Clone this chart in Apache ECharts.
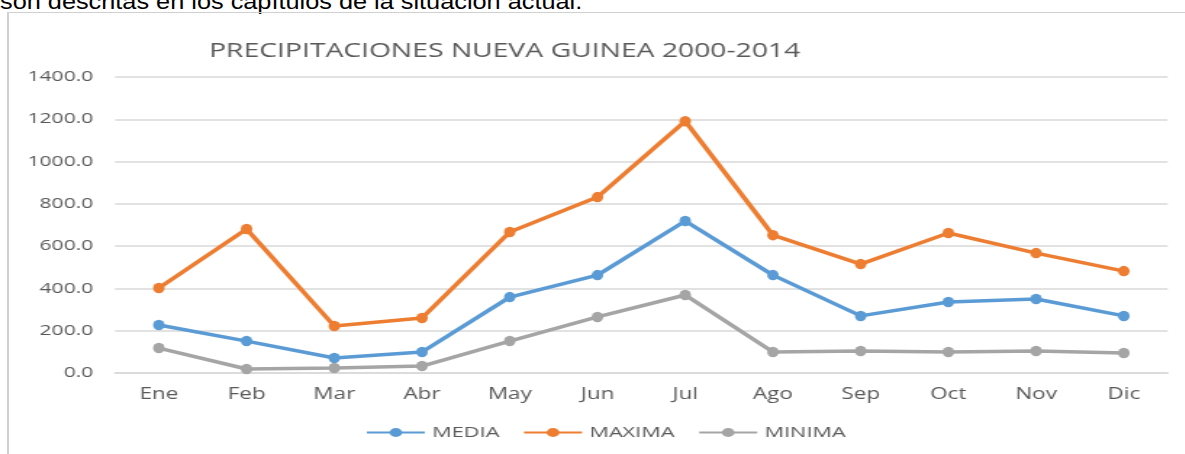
<!DOCTYPE html>
<html><head><meta charset="utf-8">
<script src="https://cdn.jsdelivr.net/npm/echarts@6/dist/echarts.min.js"></script>
<style>
html,body{margin:0;padding:0;background:#fff;overflow:hidden;}
#txt{position:absolute;left:0;top:-11px;font-family:"Liberation Sans",Arial,sans-serif;font-size:22px;color:#000;white-space:nowrap;transform:scaleX(1.15);transform-origin:left top;}
#frame{position:absolute;left:7px;top:12px;width:1190px;height:450px;border-left:2px solid #d0d0d0;border-top:1px solid #d0d0d0;}
#c{position:absolute;left:0;top:0;width:817px;height:454px;transform:scaleX(1.45);transform-origin:left top;}
</style></head>
<body>
<div id="txt">son descritas en los capítulos de la situación actual.</div>
<div id="frame"></div>
<div id="c"></div>
<script>
var categories = ['Ene','Feb','Mar','Abr','May','Jun','Jul','Ago','Sep','Oct','Nov','Dic'];
var media  = [227,151,71,99,359,463,719,463,270,336,350,270];
var maxima = [402,681,222,260,667,832,1191,652,515,662,567,482];
var minima = [118,19,24,33,151,265,369,99,104,99,104,95];
var yTicks = [0,200,400,600,800,1000,1200,1400];
var chart = echarts.init(document.getElementById('c'));
var font = '"Open Sans", "Noto Sans", sans-serif';
function s(name, data, color){
  return {name:name,type:'line',data:data,symbol:'circle',symbolSize:[8,10.5],
    lineStyle:{width:3.5,color:color},itemStyle:{color:color},animation:false};
}
chart.setOption({
  backgroundColor:'transparent',
  title:{text:'PRECIPITACIONES NUEVA GUINEA 2000-2014',left:343,top:36,textAlign:'center',
    textStyle:{fontFamily:font,fontSize:19.5,fontWeight:'normal',color:'#595959'}},
  grid:{left:79.3,right:11.7,top:77,bottom:81},
  legend:{bottom:9,left:247,itemWidth:40,itemHeight:11,itemGap:16,
    textStyle:{fontFamily:font,fontSize:15,color:'#595959'},
    data:['MEDIA','MAXIMA','MINIMA']},
  xAxis:{type:'category',data:categories,boundaryGap:true,
    axisLine:{show:true,lineStyle:{color:'#d9d9d9',width:1.5}},axisTick:{show:false},
    axisLabel:{fontFamily:font,fontSize:15.5,color:'#595959',margin:14}},
  yAxis:{type:'value',min:yTicks[0],max:yTicks[yTicks.length-1],interval:yTicks[1]-yTicks[0],
    axisLine:{show:false},axisTick:{show:false},
    splitLine:{lineStyle:{color:'#d9d9d9',width:1.5}},
    axisLabel:{fontFamily:font,fontSize:14.5,color:'#595959',margin:15,formatter:function(v){return v.toFixed(1);}}},
  series:[s('MEDIA',media,'#5B9BD5'),s('MAXIMA',maxima,'#ED7D31'),s('MINIMA',minima,'#A5A5A5')]
});
</script>
</body></html>
